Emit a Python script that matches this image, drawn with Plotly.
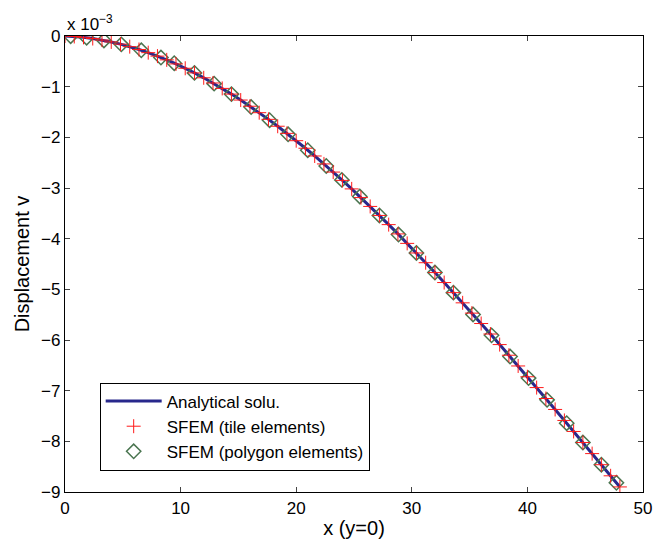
import plotly.graph_objects as go

# x positions of nodes along y=0 (tile mesh) and analytical solution values (units of 1e-3)
x_nodes = [0.0, 0.8, 1.6, 2.4, 3.2, 4.0, 4.8, 5.6, 6.4, 7.2, 8.0, 8.8, 9.6, 10.4, 11.2,
           12.0, 12.8, 13.6, 14.4, 15.2, 16.0, 16.8, 17.6, 18.4, 19.2, 20.0, 20.8, 21.6,
           22.4, 23.2, 24.0, 24.8, 25.6, 26.4, 27.2, 28.0, 28.8, 29.6, 30.4, 31.2, 32.0,
           32.8, 33.6, 34.4, 35.2, 36.0, 36.8, 37.6, 38.4, 39.2, 40.0, 40.8, 41.6, 42.4,
           43.2, 44.0, 44.8, 45.6, 46.4, 47.2, 48.0]
v_analytical = [0.0, -0.00965, -0.02629, -0.04980, -0.08007, -0.11697, -0.16040, -0.21022,
                -0.26633, -0.32860, -0.39691, -0.47115, -0.55120, -0.63693, -0.72824,
                -0.82500, -0.92709, -1.03439, -1.14679, -1.26417, -1.38641, -1.51339,
                -1.64499, -1.78110, -1.92159, -2.06635, -2.21525, -2.36819, -2.52503,
                -2.68567, -2.84998, -3.01785, -3.18916, -3.36378, -3.54160, -3.72251,
                -3.90637, -4.09309, -4.28253, -4.47457, -4.66911, -4.86601, -5.06517,
                -5.26646, -5.46976, -5.67496, -5.88194, -6.09058, -6.30076, -6.51236,
                -6.72527, -6.93936, -7.15451, -7.37062, -7.58755, -7.80520, -8.02344,
                -8.24215, -8.46122, -8.68052, -8.90000]
v_tile = [0.0, -0.00965, -0.02629, -0.04980, -0.08007, -0.11697, -0.16040, -0.21022,
          -0.26633, -0.32860, -0.39691, -0.47115, -0.55120, -0.63693, -0.72824,
          -0.82500, -0.92709, -1.03439, -1.14679, -1.26417, -1.38641, -1.51339,
          -1.64499, -1.78110, -1.92159, -2.06635, -2.21525, -2.36819, -2.52503,
          -2.68567, -2.84998, -3.01785, -3.18916, -3.36378, -3.54160, -3.72251,
          -3.90637, -4.09309, -4.28253, -4.47457, -4.66911, -4.86601, -5.06517,
          -5.26646, -5.46976, -5.67496, -5.88194, -6.09058, -6.30076, -6.51236,
          -6.72527, -6.93936, -7.15451, -7.37062, -7.58755, -7.80520, -8.02344,
          -8.24215, -8.46122, -8.68052, -8.90000]
x_poly = [0.49, 1.87, 3.37, 4.87, 6.6, 8.3, 9.45, 11.2, 12.9, 14.4, 16.1, 17.7, 19.3,
          21.0, 22.6, 23.95, 25.5, 27.2, 28.85, 30.4, 32.0, 33.6, 35.3, 36.9, 38.5,
          40.1, 41.7, 43.4, 44.8, 46.4, 47.7]
v_poly = [-0.005, -0.034, -0.0879, -0.1648, -0.2819, -0.4248, -0.5362, -0.7282, -0.9405,
          -1.1468, -1.4023, -1.6620, -1.9397, -2.2535, -2.5652, -2.8397, -3.1677,
          -3.5416, -3.9180, -4.2825, -4.6691, -5.0652, -5.4954, -5.9080, -6.3272,
          -6.7520, -7.1815, -7.6420, -8.0234, -8.4612, -8.8177]

x_ticks = [0, 10, 20, 30, 40, 50]
y_ticks = [0, -1, -2, -3, -4, -5, -6, -7, -8, -9]

font = "Liberation Sans, Arial, Helvetica, sans-serif"

fig = go.Figure()
fig.add_trace(go.Scatter(x=x_nodes, y=v_analytical, mode="lines", name="Analytical solu.",
                         line=dict(color="#28288c", width=3), legendrank=1))
fig.add_trace(go.Scatter(x=x_poly, y=v_poly, mode="markers", name="SFEM (polygon elements)",
                         marker=dict(symbol="diamond-open", size=11, color="#4a7550",
                                     line=dict(width=1.5, color="#4a7550")), legendrank=3))
fig.add_trace(go.Scatter(x=x_nodes, y=v_tile, mode="markers", name="SFEM (tile elements)",
                         marker=dict(symbol="cross-thin-open", size=10, color="#ff1a1a",
                                     line=dict(width=1, color="#ff1a1a")), legendrank=2))

fig.update_layout(
    width=653, height=542,
    margin=dict(l=64.5, r=9.7, t=35.7, b=49.7),
    paper_bgcolor="white", plot_bgcolor="white",
    font=dict(family=font, size=17, color="black"),
    showlegend=True,
    legend=dict(x=0.06, y=0.24, xanchor="left", yanchor="top",
                bordercolor="black", borderwidth=1, bgcolor="white",
                font=dict(size=17), traceorder="normal", itemwidth=56),
    xaxis=dict(range=[0, 50], tickvals=x_ticks, ticks="inside", ticklen=5,
               showline=True, linecolor="black", linewidth=1.2, mirror="ticks",
               showgrid=False, zeroline=False, automargin=False,
               title=dict(text="x (y=0)", standoff=4), tickfont=dict(size=17)),
    yaxis=dict(range=[-9, 0], tickvals=y_ticks, ticks="inside", ticklen=5,
               showline=True, linecolor="black", linewidth=1.2, mirror="ticks",
               showgrid=False, zeroline=False, automargin=False,
               title=dict(text="Displacement v", standoff=6), tickfont=dict(size=17)),
    annotations=[dict(text="x 10<sup>−3</sup>", x=0, y=1, xref="paper", yref="paper",
                      xanchor="left", yanchor="bottom", showarrow=False,
                      font=dict(size=17), yshift=0)],
)

fig.write_html("out.html", config={"displayModeBar": False},
               post_script="document.body.style.margin='0px';")
